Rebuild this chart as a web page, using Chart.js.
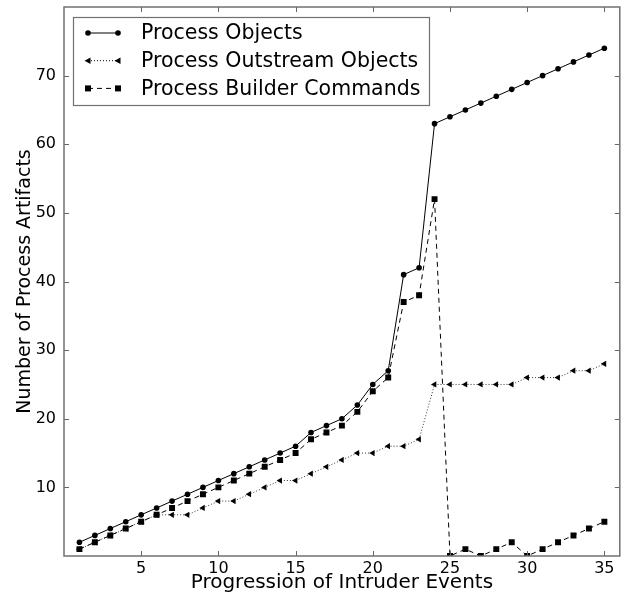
<!DOCTYPE html>
<html><head><meta charset="utf-8">
<script src="https://cdn.jsdelivr.net/npm/chart.js@4/dist/chart.umd.min.js"></script>
<style>html,body{margin:0;padding:0;background:#fff}canvas{display:block}</style>
</head><body>
<canvas id="c" width="624" height="592"></canvas>
<script>
const events = [1,2,3,4,5,6,7,8,9,10,11,12,13,14,15,16,17,18,19,20,21,22,23,24,25,26,27,28,29,30,31,32,33,34,35];
const processObjects = [2,3,4,5,6,7,8,9,10,11,12,13,14,15,16,18,19,20,22,25,27,41,42,63,64,65,66,67,68,69,70,71,72,73,74];
const outstreamObjects = [1,2,3,4,5,6,6,6,7,8,8,9,10,11,11,12,13,14,15,15,16,16,17,25,25,25,25,25,25,26,26,26,27,27,28];
const builderCommands = [1,2,3,4,5,6,7,8,9,10,11,12,13,14,15,17,18,19,21,24,26,37,38,52,0,1,0,1,2,0,1,2,3,4,5];
const seriesNames = ['Process Objects','Process Outstream Objects','Process Builder Commands'];
const xTicks = [5,10,15,20,25,30,35];
const yTicks = [10,20,30,40,50,60,70];

const FONT = "'DejaVu Sans', sans-serif";
const pts = arr => events.map((e,i) => ({x:e, y:arr[i]}));

function drawMarker(ctx, style, x, y) {
  ctx.fillStyle = '#000';
  ctx.beginPath();
  if (style === 'circle') { ctx.arc(x, y, 2.8, 0, Math.PI*2); }
  else if (style === 'rect') { ctx.rect(x-3, y-3, 6, 6); }
  else { ctx.moveTo(x-3.5, y); ctx.lineTo(x+2.5, y-3.2); ctx.lineTo(x+2.5, y+3.2); ctx.closePath(); }
  ctx.fill();
}

const framePlugin = {
  id: 'frame',
  afterDatasetsDraw(chart) {
    const {ctx, chartArea: a, scales: {x, y}} = chart;
    ctx.save();
    ctx.strokeStyle = '#666'; ctx.lineWidth = 1;
    ctx.beginPath();
    for (const t of xTicks) {
      const px = Math.round(x.getPixelForValue(t)) + 0.5;
      ctx.moveTo(px, a.bottom); ctx.lineTo(px, a.bottom - 5);
      ctx.moveTo(px, a.top); ctx.lineTo(px, a.top + 5);
    }
    for (const t of yTicks) {
      const py = Math.round(y.getPixelForValue(t)) + 0.5;
      ctx.moveTo(a.left, py); ctx.lineTo(a.left + 5, py);
      ctx.moveTo(a.right, py); ctx.lineTo(a.right - 5, py);
    }
    ctx.stroke();
    ctx.strokeStyle = '#707070'; ctx.lineWidth = 1.5;
    ctx.strokeRect(a.left, a.top, a.right - a.left, a.bottom - a.top);

    // legend inside the plot (upper left)
    const lx = a.left + 9, ly = a.top + 10, lw = 356, lh = 88;
    ctx.fillStyle = '#fff';
    ctx.fillRect(lx, ly, lw, lh);
    ctx.strokeStyle = '#707070'; ctx.lineWidth = 1.2;
    ctx.strokeRect(lx + 0.5, ly + 0.5, lw, lh);
    const styles = ['circle','triangle','rect'];
    const dashes = [[], [1,2], [5,4]];
    ctx.font = '20.5px ' + FONT;
    ctx.textBaseline = 'middle';
    chart.data.datasets.forEach((ds, i) => {
      const ry = ly + 16 + i * 27.7;
      ctx.strokeStyle = '#000'; ctx.lineWidth = 1;
      ctx.setLineDash(dashes[i]);
      ctx.beginPath(); ctx.moveTo(lx + 15, ry); ctx.lineTo(lx + 45, ry); ctx.stroke();
      ctx.setLineDash([]);
      drawMarker(ctx, styles[i], lx + 15, ry);
      drawMarker(ctx, styles[i], lx + 45, ry);
      ctx.fillStyle = '#000';
      ctx.fillText(ds.label, lx + 68, ry + 1);
    });
    ctx.restore();
  }
};

new Chart(document.getElementById('c'), {
  type: 'line',
  data: {
    datasets: [
      { label: seriesNames[0], data: pts(processObjects), borderColor: '#000', backgroundColor: '#000', borderWidth: 1,
        pointStyle: 'circle', pointRadius: 2.8, pointBorderWidth: 0, pointBackgroundColor: '#000', order: 1 },
      { label: seriesNames[1], data: pts(outstreamObjects), borderColor: '#333', backgroundColor: '#000', borderWidth: 1,
        borderDash: [1,2], pointStyle: 'triangle', pointRotation: -90, pointRadius: 3.6, pointBorderWidth: 0, pointBackgroundColor: '#000', order: 3 },
      { label: seriesNames[2], data: pts(builderCommands), borderColor: '#000', backgroundColor: '#000', borderWidth: 1,
        borderDash: [5,4], pointStyle: 'rect', pointRadius: 4.2, pointBorderWidth: 0, pointBackgroundColor: '#000', order: 2 }
    ]
  },
  options: {
    responsive: false, animation: false, devicePixelRatio: 1,
    layout: { padding: { top: 7, right: 4, left: 0, bottom: 0 } },
    plugins: { legend: { display: false }, tooltip: { enabled: false } },
    elements: { line: { tension: 0 } },
    scales: {
      x: {
        type: 'linear', min: 0, max: 36,
        afterBuildTicks: s => { s.ticks = xTicks.map(v => ({value: v})); },
        afterFit: s => { s.height = 36; s.paddingLeft = 0; s.paddingRight = 0; },
        grid: { display: false, drawTicks: false },
        border: { display: false },
        ticks: { color: '#000', font: { family: FONT, size: 16 }, padding: 3, maxRotation: 0 },
        title: { display: true, text: 'Progression of Intruder Events', color: '#000', font: { family: FONT, size: 20 }, padding: { top: 0, bottom: -3 } }
      },
      y: {
        type: 'linear', min: 0, max: 80,
        afterBuildTicks: s => { s.ticks = yTicks.map(v => ({value: v})); },
        afterFit: s => { s.width = 64; s.paddingTop = 0; s.paddingBottom = 0; },
        grid: { display: false, drawTicks: false },
        border: { display: false },
        ticks: { color: '#000', font: { family: FONT, size: 16 }, padding: 8 },
        title: { display: true, text: 'Number of Process Artifacts', color: '#000', font: { family: FONT, size: 19 }, padding: { top: 14, bottom: 0 } }
      }
    }
  },
  plugins: [framePlugin]
});
</script>
</body></html>
